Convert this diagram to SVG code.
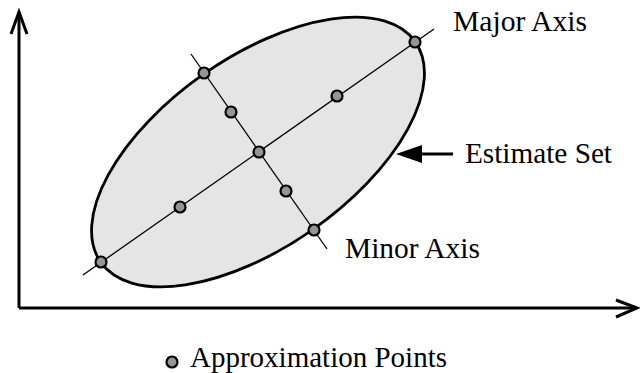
<svg xmlns="http://www.w3.org/2000/svg" width="640" height="373" viewBox="0 0 640 373">
<style>
.axis{fill:none;stroke:#000;stroke-width:3}
.thin{fill:none;stroke:#000;stroke-width:1.3}
.pt{fill:#959595;stroke:#000;stroke-width:2.2}
.lbl{font-family:"Liberation Serif","Times New Roman",serif;font-size:30px;fill:#000}
</style>
<rect width="640" height="373" fill="#fff"/>
<g id="axes">
<polyline class="axis" points="19,308 19,12"/>
<polyline class="axis" points="11,34 19,12 27,34"/>
<polyline class="axis" points="19,308 637,308"/>
<polyline class="axis" points="616,300 637,308 616,317"/>
</g>
<g id="estimate-set">
<ellipse cx="258" cy="152" rx="192" ry="95" transform="rotate(-35 258 152)" fill="#e5e5e5" stroke="#000" stroke-width="2.8"/>
</g>
<g id="connectors">
<line class="thin" x1="83" y1="275" x2="434" y2="29"/>
<line class="thin" x1="191" y1="54" x2="327" y2="249"/>
<line x1="453" y1="154" x2="418" y2="154" stroke="#000" stroke-width="3"/>
<polygon points="396,154 422,145 422,163" fill="#000"/>
</g>
<g id="points">
<circle class="pt" cx="101" cy="262" r="5.5"/>
<circle class="pt" cx="180" cy="207" r="5.5"/>
<circle class="pt" cx="259" cy="152" r="5.5"/>
<circle class="pt" cx="337" cy="96" r="5.5"/>
<circle class="pt" cx="415" cy="42" r="5.5"/>
<circle class="pt" cx="204" cy="73" r="5.5"/>
<circle class="pt" cx="231" cy="112" r="5.5"/>
<circle class="pt" cx="286" cy="191" r="5.5"/>
<circle class="pt" cx="314" cy="230" r="5.5"/>
</g>
<g id="labels">
<text class="lbl" x="453" y="31" textLength="134" lengthAdjust="spacingAndGlyphs">Major Axis</text>
<text class="lbl" x="465" y="163" textLength="147" lengthAdjust="spacingAndGlyphs">Estimate Set</text>
<text class="lbl" x="345" y="258" textLength="135" lengthAdjust="spacingAndGlyphs">Minor Axis</text>
</g>
<g id="legend">
<circle class="pt" cx="172" cy="362" r="5.5"/>
<text class="lbl" x="190" y="367" textLength="257" lengthAdjust="spacingAndGlyphs">Approximation Points</text>
</g>
</svg>
